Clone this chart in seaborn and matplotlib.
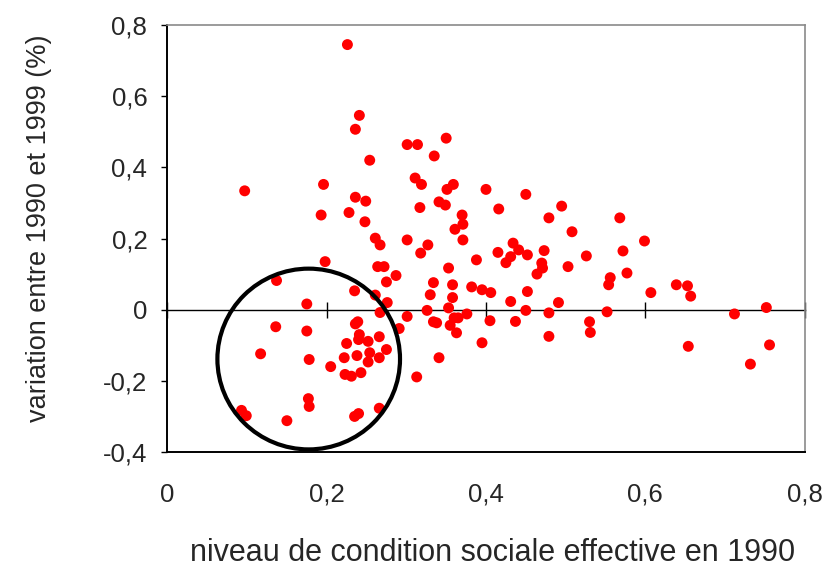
import seaborn as sns
import matplotlib.pyplot as plt
import pandas as pd
from matplotlib.patches import Ellipse

# Values
condition_1990 = [
    0.226, 0.241, 0.236, 0.254, 0.097, 0.196, 0.236, 0.249, 0.193, 0.228,
    0.248, 0.261, 0.267, 0.301, 0.198, 0.264, 0.272, 0.287, 0.275, 0.137,
    0.235, 0.261, 0.175, 0.276, 0.267, 0.301, 0.291, 0.136, 0.175, 0.239,
    0.236, 0.241, 0.240, 0.252, 0.266, 0.225, 0.275, 0.117, 0.178, 0.222,
    0.238, 0.254, 0.266, 0.252, 0.205, 0.223, 0.231, 0.243, 0.177, 0.178,
    0.093, 0.099, 0.150, 0.235, 0.240, 0.266, 0.313, 0.341, 0.301, 0.314,
    0.350, 0.335, 0.311, 0.319, 0.359, 0.351, 0.400, 0.450, 0.341, 0.349,
    0.317, 0.416, 0.495, 0.479, 0.370, 0.371, 0.361, 0.371, 0.508, 0.327,
    0.318, 0.388, 0.434, 0.415, 0.441, 0.452, 0.431, 0.425, 0.473, 0.470,
    0.471, 0.464, 0.503, 0.526, 0.353, 0.334, 0.358, 0.382, 0.395, 0.406,
    0.330, 0.358, 0.326, 0.353, 0.376, 0.334, 0.338, 0.360, 0.365, 0.355,
    0.363, 0.405, 0.395, 0.452, 0.431, 0.450, 0.437, 0.479, 0.491, 0.479,
    0.568, 0.599, 0.572, 0.577, 0.556, 0.554, 0.607, 0.639, 0.653, 0.657,
    0.552, 0.530, 0.531, 0.712, 0.752, 0.654, 0.756, 0.732,
]
variation_90_99 = [
    0.745, 0.546, 0.507, 0.420, 0.334, 0.352, 0.316, 0.305, 0.266, 0.273,
    0.247, 0.201, 0.182, 0.196, 0.135, 0.121, 0.121, 0.096, 0.078, 0.082,
    0.053, 0.041, 0.016, 0.020, -0.008, -0.019, -0.053, -0.048, -0.060, -0.034,
    -0.040, -0.070, -0.084, -0.089, -0.076, -0.095, -0.112, -0.124, -0.140, -0.135,
    -0.129, -0.121, -0.135, -0.147, -0.160, -0.182, -0.187, -0.177, -0.250, -0.272,
    -0.283, -0.298, -0.312, -0.300, -0.292, -0.277, -0.189, -0.135, 0.464, 0.464,
    0.482, 0.432, 0.370, 0.352, 0.352, 0.338, 0.338, 0.324, 0.303, 0.294,
    0.287, 0.283, 0.291, 0.258, 0.266, 0.240, 0.226, 0.196, 0.219, 0.182,
    0.159, 0.140, 0.187, 0.161, 0.168, 0.154, 0.149, 0.132, 0.166, 0.131,
    0.117, 0.100, 0.121, 0.151, 0.117, 0.076, 0.070, 0.064, 0.056, 0.048,
    0.042, 0.034, -0.002, 0.005, -0.012, -0.034, -0.037, -0.023, -0.023, -0.044,
    -0.065, -0.031, -0.093, 0.051, 0.023, -0.002, -0.033, -0.009, 0.020, -0.075,
    0.258, 0.193, 0.165, 0.103, 0.090, 0.070, 0.048, 0.070, 0.067, 0.038,
    -0.006, -0.034, -0.064, -0.012, 0.006, -0.103, -0.099, -0.153,
]
x_ticks = [0, 0.2, 0.4, 0.6, 0.8]
x_ticklabels = ["0", "0,2", "0,4", "0,6", "0,8"]
y_ticks = [-0.4, -0.2, 0, 0.2, 0.4, 0.6, 0.8]
y_ticklabels = ["-0,4", "-0,2", "0", "0,2", "0,4", "0,6", "0,8"]

df = pd.DataFrame({"condition": condition_1990, "variation": variation_90_99})

sns.set_style("white")
plt.rcParams["font.family"] = ["Liberation Sans", "DejaVu Sans"]

fig = plt.figure(figsize=(8.28, 5.75), dpi=100)
ax = fig.add_axes([0.2022, 0.2139, 0.7695, 0.7426])

sns.scatterplot(data=df, x="condition", y="variation", ax=ax,
                color="#ff0000", s=62, edgecolor="none", linewidth=0, zorder=3)

ax.set_xlim(0, 0.8)
ax.set_ylim(-0.4, 0.8)

# frame: black left/bottom, grey top/right
for side in ["top", "right"]:
    ax.spines[side].set_color("#8a8a8a")
    ax.spines[side].set_linewidth(1.2)
for side in ["left", "bottom"]:
    ax.spines[side].set_color("black")
    ax.spines[side].set_linewidth(1.4)

ax.set_xticks(x_ticks)
ax.set_xticklabels(x_ticklabels)
ax.set_yticks(y_ticks)
ax.set_yticklabels(y_ticklabels)
ax.tick_params(axis="x", length=0, pad=22, labelsize=18.5)
ax.tick_params(axis="y", direction="out", length=4.5, width=1, pad=10,
               labelsize=18.5, left=True, color="black")

# horizontal axis line at y = 0 with crossing ticks
zero_axis = ax.secondary_xaxis(0, transform=ax.transData)
zero_axis.set_xticks(x_ticks)
zero_axis.tick_params(direction="inout", length=12, width=1, labelbottom=False,
                      color="black")
zero_axis.spines["bottom"].set_linewidth(1)
zero_axis.spines["bottom"].set_color("black")

ax.set_xlabel("niveau de condition sociale effective en 1990", fontsize=22)
ax.xaxis.label.set_va("center")
ax.xaxis.set_label_coords(0.51, -0.2365)
ax.set_ylabel("variation entre 1990 et 1999 (%)", fontsize=19.5)
ax.yaxis.label.set_va("center")
ax.yaxis.set_label_coords(-0.2015, 0.525)

# highlighted cluster
ax.add_patch(Ellipse((0.1774, -0.1387), width=0.2293, height=0.508,
                     fill=False, edgecolor="black", linewidth=3, zorder=4))

ax.grid(False)
fig.savefig("out.png", dpi=100)
